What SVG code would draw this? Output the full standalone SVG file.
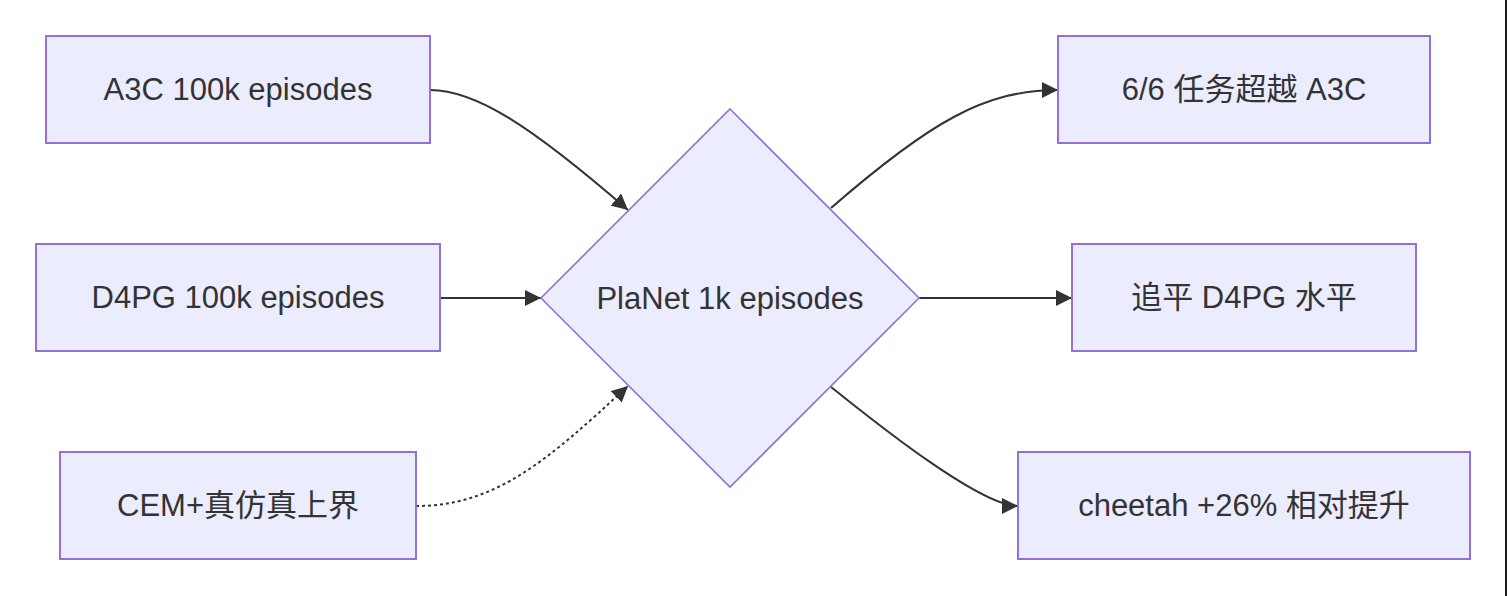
<svg xmlns="http://www.w3.org/2000/svg" width="1508" height="596" viewBox="0 0 1508 596">
  <style>
    .node rect, .node polygon { fill: #ECECFF; stroke: #9370DB; stroke-width: 2; }
    .node polygon { stroke-width: 1.6; }
    .label { font-family: "Liberation Sans", "Noto Sans CJK SC", sans-serif; font-size: 31px; fill: #333333; text-anchor: middle; }
    .edge { fill: none; stroke: #333333; stroke-width: 2; marker-end: url(#arrow); }
    .dotted { stroke-dasharray: 3 3; }
  </style>
  <defs>
    <marker id="arrow" viewBox="0 0 10 10" refX="10" refY="5" markerUnits="userSpaceOnUse" markerWidth="16" markerHeight="16" orient="auto">
      <path d="M0,0 L10,5 L0,10 z" fill="#333333"/>
    </marker>
  </defs>
  <rect width="1508" height="596" fill="#ffffff"/>
  <g id="connectors">
    <path class="edge" d="M430,90 C475,90 530,125 628,210"/>
    <path class="edge" d="M440,298 L541,298"/>
    <path class="edge dotted" d="M416,506 C496,506 548,460 628,386"/>
    <path class="edge" d="M831,208 C930,122 985,90 1058,90"/>
    <path class="edge" d="M919,298 L1072,298"/>
    <path class="edge" d="M831,387 C853,404 976,506 1018,506"/>
  </g>
  <g id="node-a3c" class="node">
    <rect x="46" y="36" width="384" height="107"/>
    <text class="label" x="238" y="100">A3C 100k episodes</text>
  </g>
  <g id="node-d4pg" class="node">
    <rect x="36" y="244" width="404" height="107"/>
    <text class="label" x="238" y="308">D4PG 100k episodes</text>
  </g>
  <g id="node-cem" class="node">
    <rect x="60" y="452" width="356" height="107"/>
    <text class="label" x="238" y="516">CEM+真仿真上界</text>
  </g>
  <g id="node-planet" class="node">
    <polygon points="730,109 919,298 730,487 541,298"/>
    <text class="label" x="730" y="308.5">PlaNet 1k episodes</text>
  </g>
  <g id="node-a3c-result" class="node">
    <rect x="1058" y="36" width="372" height="107"/>
    <text class="label" x="1244" y="100">6/6 任务超越 A3C</text>
  </g>
  <g id="node-d4pg-result" class="node">
    <rect x="1072" y="244" width="344" height="107"/>
    <text class="label" x="1244" y="308">追平 D4PG 水平</text>
  </g>
  <g id="node-cheetah" class="node">
    <rect x="1018" y="452" width="452" height="107"/>
    <text class="label" x="1244" y="516">cheetah +26% 相对提升</text>
  </g>
  <rect x="1505" y="0" width="2" height="596" fill="#1a1a1a"/>
</svg>
